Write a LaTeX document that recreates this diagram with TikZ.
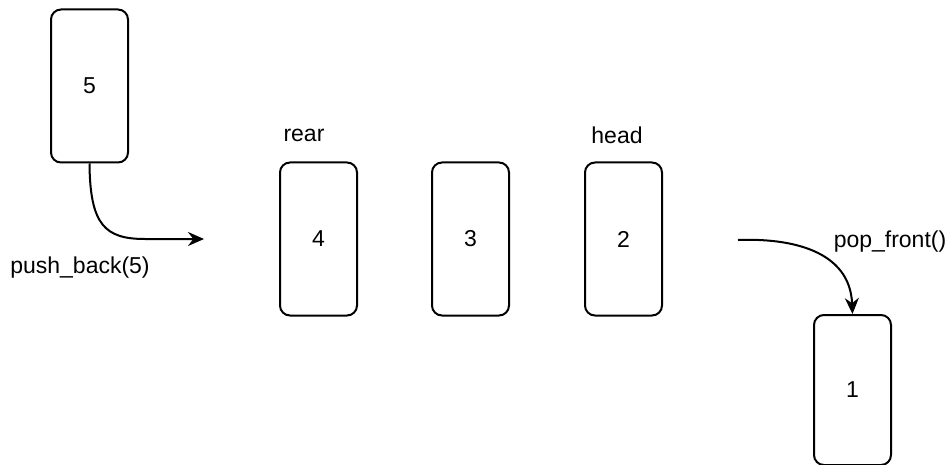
\documentclass[tikz,border=0pt]{standalone}
\usepackage{fontspec}
\setmainfont{Liberation Sans}
\usetikzlibrary{arrows.meta}
\begin{document}
\begin{tikzpicture}[x=0.5pt,y=-0.5pt,
  cell/.style={draw=black,line width=1pt,rounded corners=5pt,minimum width=38.5pt,minimum height=76.5pt,inner sep=0pt,font=\fontsize{11.5}{13}\selectfont},
  lbl/.style={font=\fontsize{11.5}{13}\selectfont,inner sep=0pt},
  conn/.style={line width=1pt,-{Stealth[length=8pt,width=7pt]}}]
\useasboundingbox (0,0) rectangle (948,465);
\node[cell] (n5) at (89.5,86) {5};
\node[cell] (n4) at (318.5,239) {4};
\node[cell] (n3) at (470.5,239) {3};
\node[cell] (n2) at (623.5,239) {2};
\node[cell,minimum height=75pt] (n1) at (852.5,390) {1};
\node[lbl] (rear) at (304,135) {rear};
\node[lbl] (head) at (617,135) {head};
\node[lbl] (push) at (80,268) {push\_back(5)};
\node[lbl] (pop) at (890,242) {pop\_front()};
\coordinate (pbend) at (204,239);
\coordinate (pstart) at (738,240);
\draw[conn] (n5.south) .. controls (90,225) and (105,239) .. (145,239) -- (pbend);
\draw[conn] (pstart) .. controls (790,238) and (850,250) .. (n1.north);
\end{tikzpicture}
\end{document}
